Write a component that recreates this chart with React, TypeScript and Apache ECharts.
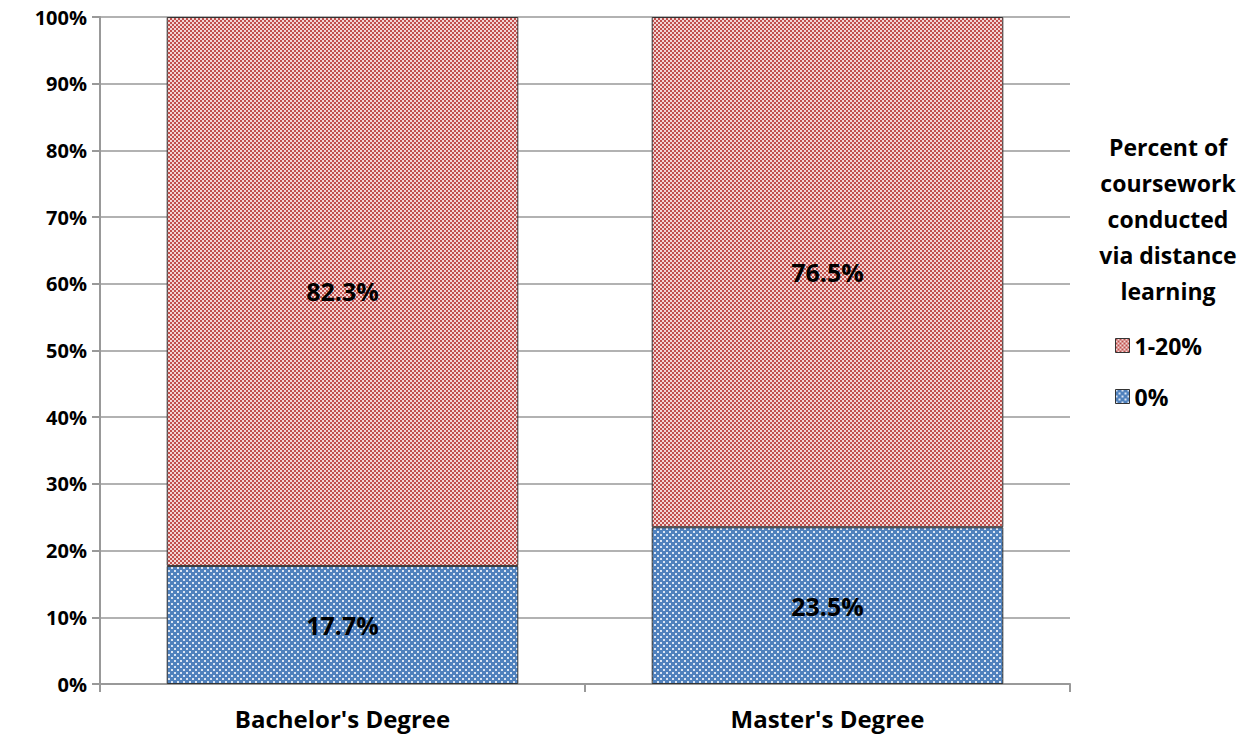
import React, { useEffect, useRef } from "react";
import * as echarts from "echarts";

const categories = ["Bachelor's Degree", "Master's Degree"];
const zeroPct = [17.7, 23.5];
const oneTo20Pct = [82.3, 76.5];
const yTicks = [0, 10, 20, 30, 40, 50, 60, 70, 80, 90, 100];
const legendTitle = "Percent of\ncoursework\nconducted\nvia distance\nlearning";

function makeRed() {
  const c = document.createElement("canvas");
  c.width = 4;
  c.height = 4;
  const ctx = c.getContext("2d")!;
  ctx.fillStyle = "#f2d6d5";
  ctx.fillRect(0, 0, 4, 4);
  ctx.fillStyle = "#c0504d";
  ctx.fillRect(0, 0, 2, 2);
  ctx.fillRect(2, 2, 2, 2);
  return c;
}

function makeBlue() {
  const c = document.createElement("canvas");
  c.width = 6;
  c.height = 6;
  const ctx = c.getContext("2d")!;
  ctx.fillStyle = "#4f81bd";
  ctx.fillRect(0, 0, 6, 6);
  ctx.fillStyle = "#dbe5f3";
  ctx.fillRect(0, 0, 2, 2);
  ctx.fillRect(3, 3, 2, 2);
  return c;
}

export default function App() {
  const ref = useRef<HTMLDivElement>(null);
  useEffect(() => {
    const chart = echarts.init(ref.current!, null, { renderer: "svg" });
    const redPat = { image: makeRed(), repeat: "repeat" };
    const bluePat = { image: makeBlue(), repeat: "repeat" };
    const font = "'Open Sans', 'Liberation Sans', sans-serif";
    const label = {
      show: true,
      position: "inside",
      formatter: (p: any) => p.value.toFixed(1) + "%",
      color: "#000",
      fontSize: 25,
      fontWeight: "bold",
      fontFamily: font,
    };
    chart.setOption({
      animation: false,
      textStyle: { fontFamily: font },
      grid: { left: 100, right: 173, top: 17, bottom: 51 },
      xAxis: {
        type: "category",
        data: categories,
        axisLine: { lineStyle: { color: "#999", width: 2 } },
        axisTick: { show: true, length: 8, lineStyle: { color: "#999", width: 2 } },
        axisLabel: { color: "#000", fontSize: 24, fontWeight: "bold", margin: 22, fontFamily: font },
      },
      yAxis: {
        type: "value",
        min: 0,
        max: 100,
        interval: 10,
        axisLine: { show: true, lineStyle: { color: "#999", width: 2 } },
        axisTick: { show: true, length: 8, lineStyle: { color: "#999", width: 2 } },
        splitLine: { lineStyle: { color: "#999", width: 1.5 } },
        axisLabel: {
          color: "#000",
          fontSize: 20,
          fontWeight: "bold",
          margin: 13,
          fontFamily: font,
          formatter: (v: number) => (yTicks.includes(v) ? v + "%" : ""),
        },
      },
      legend: {
        orient: "vertical",
        left: 1110,
        top: 329,
        itemGap: 28,
        itemWidth: 14,
        itemHeight: 14,
        itemStyle: { borderColor: "#333", borderWidth: 1 },
        icon: "rect",
        data: ["1-20%", "0%"],
        textStyle: { color: "#000", fontSize: 23, fontWeight: "bold", fontFamily: font },
      },
      graphic: [
        {
          type: "text",
          x: 1168,
          y: 129,
          style: {
            text: legendTitle,
            fill: "#000",
            font: "bold 23px " + font,
            textAlign: "center",
            lineHeight: 36,
          },
        },
      ],
      series: [
        {
          name: "0%",
          type: "bar",
          stack: "s",
          barWidth: "72.5%",
          data: zeroPct,
          itemStyle: { color: bluePat as any, borderColor: "#333", borderWidth: 1 },
          label,
        },
        {
          name: "1-20%",
          type: "bar",
          stack: "s",
          barWidth: "72.5%",
          data: oneTo20Pct,
          itemStyle: { color: redPat as any, borderColor: "#333", borderWidth: 1 },
          label,
        },
      ],
    });
    return () => chart.dispose();
  }, []);
  return <div ref={ref} style={{ width: 1243, height: 735, position: "absolute", left: 0, top: 0 }} />;
}
